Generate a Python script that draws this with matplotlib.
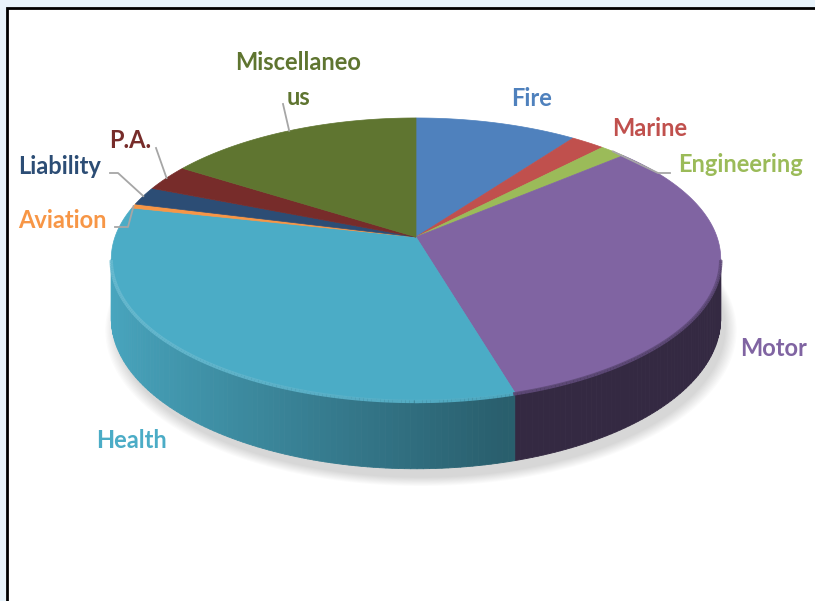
import numpy as np
import matplotlib.pyplot as plt
import matplotlib.colors as mcolors
from matplotlib.patches import Polygon, Rectangle
from matplotlib.collections import PolyCollection, LineCollection

plt.rcParams['font.family'] = ['Lato', 'DejaVu Sans']

# share of premium (%), slices run clockwise from 12 o'clock
labels = ['Fire', 'Marine', 'Engineering', 'Motor', 'Health', 'Aviation',
          'Liability', 'P.A.', 'Miscellaneo\nus']
shares = [10.0, 2.1, 1.6, 31.8, 33.0, 0.5, 2.1, 3.0, 15.9]
colors = ['#4F81BD', '#C0504D', '#9BBB59', '#8064A2', '#4BACC6', '#F79646',
          '#2C4D75', '#772C2A', '#5F7530']

# label centres in pixels
label_pos = [(532, 98), (650, 128), (741, 165), (774, 348), (132, 440),
             (62, 220), (60, 167), (130, 141), (298, 80)]
# leader line points from the label side (the last point is on the pie rim)
leaders = {2: [(670, 173), (658, 173)], 5: [(115, 227), (128, 227)],
           6: [(110, 173), (118, 173)], 7: [(156, 148)], 8: [(283, 104)]}

# projection of the 3d disc
cx, cy = 416, 237
A, B, H, p = 301, 137.6, 58, 0.156


def proj(theta, z=0.0):
    X, Y = np.sin(theta), np.cos(theta)
    w = 1 + p * Y
    return cx + A * X / w, cy + (-B * Y + H * z) / w


def shade(c, f):
    r, g, b = mcolors.to_rgb(c)
    if f <= 1:
        return (r * f, g * f, b * f)
    t = f - 1
    return (r + (1 - r) * t, g + (1 - g) * t, b + (1 - b) * t)


def light(t):
    return np.clip((-np.sin(t) + 0.25) / 1.25, 0, 1)


fig = plt.figure(figsize=(8.15, 6.01), dpi=100, facecolor='#E8F3FB')
ax = fig.add_axes([0, 0, 1, 1])
ax.set_xlim(0, 815)
ax.set_ylim(601, 0)
ax.axis('off')

ax.add_patch(Rectangle((7, 8), 830, 620, facecolor='white', edgecolor='black', lw=2, zorder=0))

fracs = np.array(shares) / sum(shares)
bounds = np.concatenate([[0], np.cumsum(fracs)]) * 2 * np.pi

# soft shadow
tt = np.linspace(0, 2 * np.pi, 200)
bx, by = proj(tt, 1.0)
for k in range(10):
    s = 1.0 + 0.004 * k
    xs = cx + 5 + (bx - cx) * s
    ys = cy + 9 + (by - cy) * s
    ax.add_patch(Polygon(np.column_stack([xs, ys]), closed=True, facecolor='#000000',
                         edgecolor='none', alpha=0.015, zorder=1))

# outer wall (visible part only)
t1 = np.arccos(-p)
t2 = 2 * np.pi - t1
quads, qcols = [], []
for i, c in enumerate(colors):
    a0, a1 = max(bounds[i], t1), min(bounds[i + 1], t2)
    if a1 <= a0:
        continue
    n = max(2, int(np.degrees(a1 - a0)))
    ts = np.linspace(a0, a1, n + 1)
    for ta, tb in zip(ts[:-1], ts[1:]):
        xa, ya = proj(ta)
        xb, yb = proj(tb)
        xc, yc = proj(tb, 1)
        xd, yd = proj(ta, 1)
        quads.append([(xa, ya), (xb, yb), (xc, yc), (xd, yd)])
        f = 0.55 + 0.42 * light(0.5 * (ta + tb))
        if i == 3:
            f = 0.41
        qcols.append(shade(c, f))
ax.add_collection(PolyCollection(quads, facecolors=qcols, edgecolors=qcols, lw=0.6, zorder=2))

# top faces
for i, c in enumerate(colors):
    ts = np.linspace(bounds[i], bounds[i + 1], max(3, int(np.degrees(bounds[i + 1] - bounds[i])) + 2))
    xs, ys = proj(ts)
    pts = np.column_stack([np.r_[cx, xs], np.r_[cy, ys]])
    ax.add_patch(Polygon(pts, closed=True, facecolor=c, edgecolor=c, lw=0.5, zorder=3))

# bevel highlight along the front rim
segs, scols = [], []
ts = np.linspace(t1, t2, 240)
for ta, tb in zip(ts[:-1], ts[1:]):
    tm = 0.5 * (ta + tb)
    i = np.searchsorted(bounds, tm) - 1
    xa, ya = proj(ta, 0.02)
    xb, yb = proj(tb, 0.02)
    segs.append([(xa, ya), (xb, yb)])
    scols.append(shade(colors[i], 1.04 + 0.14 * light(tm)) if i != 3 else shade(colors[i], 0.75))
ax.add_collection(LineCollection(segs, colors=scols, lw=2.5, alpha=0.9, zorder=4))

# leader lines
for i, pts in leaders.items():
    tm = 0.5 * (bounds[i] + bounds[i + 1])
    rx, ry = proj(tm)
    xs = [q[0] for q in pts] + [rx]
    ys = [q[1] for q in pts] + [ry]
    ax.plot(xs, ys, color='#A6A6A6', lw=1.3, zorder=5)

# labels
for i, lab in enumerate(labels):
    x, y = label_pos[i]
    ax.text(x, y, lab, color=colors[i], fontsize=17, fontweight='bold',
            ha='center', va='center', multialignment='center', linespacing=1.6, zorder=6)

fig.savefig('out.png', dpi=100, facecolor=fig.get_facecolor())
